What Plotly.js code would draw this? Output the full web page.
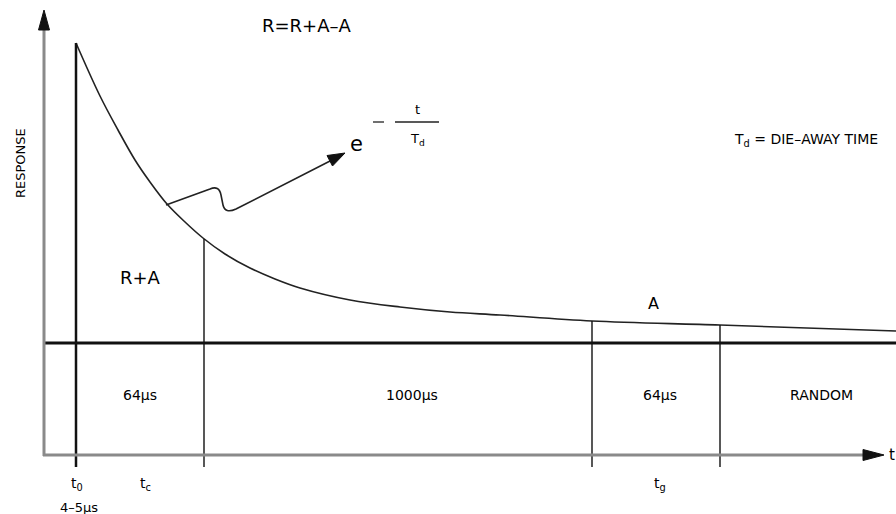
<!DOCTYPE html>
<html>
<head>
<meta charset="utf-8">
<script src="https://cdn.plot.ly/plotly-3.0.1.min.js"></script>
<style>html,body{margin:0;padding:0;background:#fff;}#chart{width:896px;height:514px;}</style>
</head>
<body>
<div id="chart"></div>
<script>
// Decay curve (time position, response above baseline)
const curveX = [76, 100, 118, 135, 150, 167, 185, 203, 225, 250, 275, 300, 350, 400, 450, 500, 592, 720, 896];
const curveY = [300, 247, 213, 183, 161, 139, 121, 105, 89, 75, 64, 55, 43, 36, 31, 28, 22, 18, 12];

// Gate boundaries: t0, tc, tg, end of gate
const boundaryX = [76, 204, 592, 720];
const boundaryTop = [300, 104, 22, 18];
const boundaryWidth = [2.5, 1.4, 1.4, 1.4];
const boundaryBottom = -124;

// Segment labels
const segLabels = ['64µs', '1000µs', '64µs', 'RANDOM'];
const segLabelX = [140, 412, 660, 821];
const segLabelY = -52;

// Time markers under the axis
const markerLabels = ['t<sub>0</sub>', 't<sub>c</sub>', 't<sub>g</sub>'];
const markerX = [77, 145, 660];

const FONT = 'DejaVu Sans, Liberation Sans, sans-serif';
const AX = '#8a8a8a';

const traces = [];
traces.push({x: curveX, y: curveY, mode: 'lines', line: {color: '#222', width: 1.6, shape: 'spline', smoothing: 1}, hoverinfo: 'skip'});
boundaryX.forEach((bx, i) => {
  traces.push({x: [bx, bx], y: [boundaryTop[i], boundaryBottom], mode: 'lines', line: {color: '#111', width: boundaryWidth[i]}, hoverinfo: 'skip'});
});

// helper: pixel y -> response units (baseline at 343 px)
const Y = p => 343 - p;

const shapes = [
  // baseline
  {type: 'line', x0: 44, x1: 896, y0: 0, y1: 0, line: {color: '#111', width: 3}},
  // y axis
  {type: 'line', x0: 44, x1: 44, y0: Y(456), y1: Y(26), line: {color: AX, width: 3}},
  {type: 'path', path: `M44,${Y(10)} L38.5,${Y(30)} L49.5,${Y(30)} Z`, fillcolor: '#111', line: {color: '#111', width: 1}},
  // x axis
  {type: 'line', x0: 43, x1: 868, y0: Y(455), y1: Y(455), line: {color: AX, width: 3}},
  {type: 'path', path: `M884,${Y(455)} L863,${Y(449.5)} L863,${Y(460.5)} Z`, fillcolor: '#111', line: {color: '#111', width: 1}},
  // wavy arrow from curve to formula
  {type: 'path', path: `M166,${Y(205)} L210,${Y(189)} Q219,${Y(185)} 221,${Y(195)} L223,${Y(205)} Q225,${Y(214)} 236,${Y(209)} L332,${Y(160)}`,
   line: {color: '#222', width: 1.6}},
  {type: 'path', path: `M345,${Y(153)} L327,${Y(155.5)} L332.5,${Y(166)} Z`, fillcolor: '#111', line: {color: '#111', width: 1}},
  // fraction bar and minus sign
  {type: 'line', x0: 395, x1: 439, y0: Y(122), y1: Y(122), line: {color: '#222', width: 1.3}},
  {type: 'line', x0: 373, x1: 384, y0: Y(122), y1: Y(122), line: {color: '#222', width: 1.3}}
];

const ann = (x, y, text, size, extra) => Object.assign({x: x, y: y, text: text, showarrow: false, xref: 'x', yref: 'y',
  font: {family: FONT, size: size, color: '#000'}, xanchor: 'center', yanchor: 'middle'}, extra || {});

const annotations = [
  ann(306, Y(25), 'R=R+A–A', 18),
  ann(140, Y(277), 'R+A', 18),
  ann(653, Y(303), 'A', 16),
  ann(20, Y(163), 'RESPONSE', 13, {textangle: -90}),
  ann(356, Y(144), 'e', 21),
  ann(417, Y(109), 't', 13),
  ann(417, Y(139), 'T<sub>d</sub>', 13),
  ann(806, Y(140), 'T<sub>d</sub> = DIE–AWAY TIME', 14),
  ann(892, Y(455), 't', 15),
  ann(79, Y(507), '4–5µs', 13)
];
segLabels.forEach((s, i) => annotations.push(ann(segLabelX[i], segLabelY, s, 14)));
markerLabels.forEach((s, i) => annotations.push(ann(markerX[i], Y(484), s, 14)));

const layout = {
  width: 896, height: 514,
  margin: {l: 0, r: 0, t: 0, b: 0},
  paper_bgcolor: '#fff', plot_bgcolor: '#fff',
  showlegend: false,
  xaxis: {range: [0, 896], visible: false, fixedrange: true},
  yaxis: {range: [Y(514), Y(0)], visible: false, fixedrange: true},
  shapes: shapes,
  annotations: annotations
};

Plotly.newPlot('chart', traces, layout, {staticPlot: true, displayModeBar: false});
</script>
</body>
</html>
